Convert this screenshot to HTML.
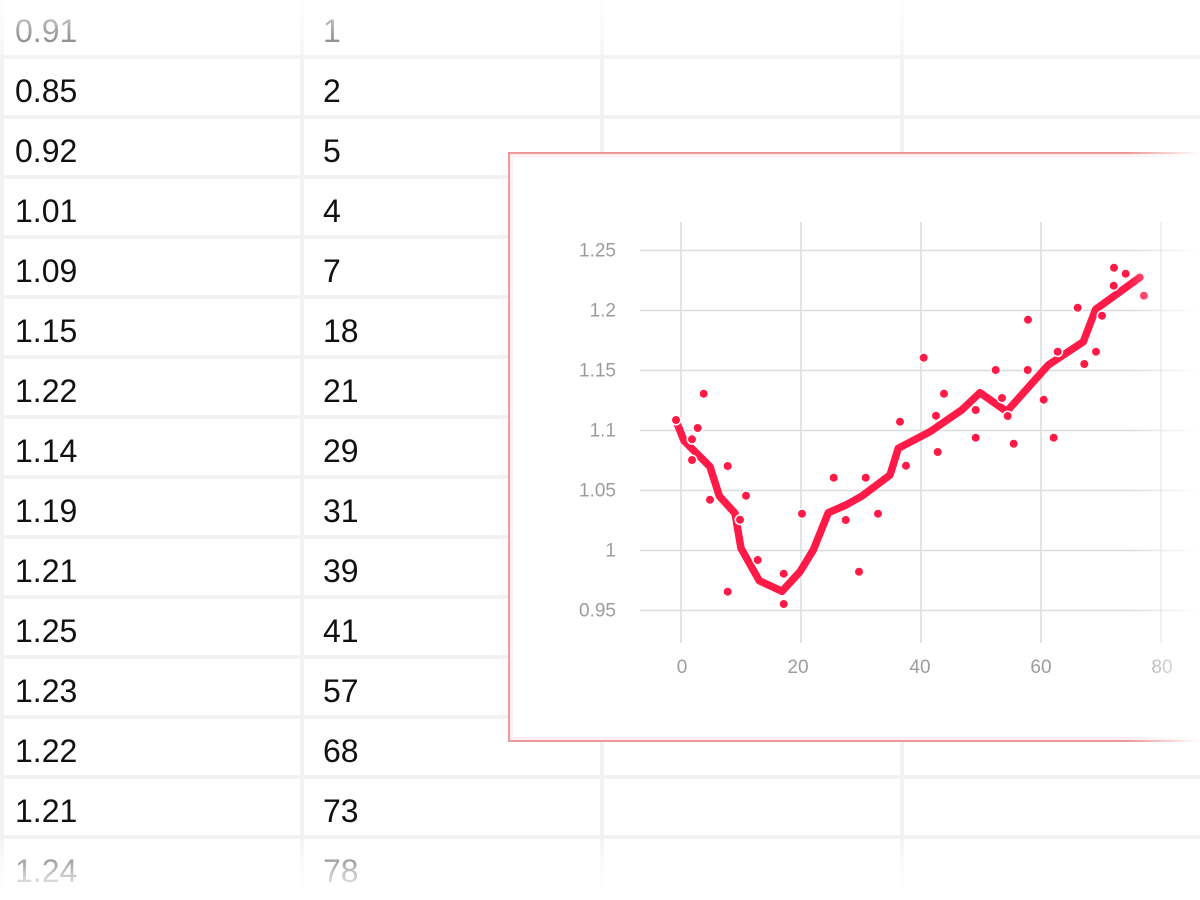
<!DOCTYPE html>
<html>
<head>
<meta charset="utf-8">
<style>
  html,body{margin:0;padding:0;}
  body{width:1200px;height:900px;position:relative;overflow:hidden;background:#f2f2f2;font-family:"Liberation Sans",Arial,sans-serif;}
  .c{position:absolute;background:#fff;width:296px;height:56px;}
  .t{position:absolute;font-size:32px;line-height:32px;color:#111;white-space:nowrap;}
  #chart{position:absolute;left:508px;top:152px;width:720px;height:586px;border:2px solid #ee9a9a;background:#fff;box-shadow:inset 0 0 0 3px #fcf0f2;}
  #svg{position:absolute;left:0;top:0;}
  #fadeR{position:absolute;left:1130px;top:148px;width:70px;height:598px;background:linear-gradient(to right,rgba(255,255,255,0) 0%,rgba(255,255,255,0.45) 45%,#fff 100%);}
  #fadeT{position:absolute;left:0;top:0;width:1200px;height:62px;background:linear-gradient(to bottom,rgba(255,255,255,0.88) 0px,rgba(255,255,255,0.5) 45px,rgba(255,255,255,0) 62px);}
  #fadeB{position:absolute;left:0;top:838px;width:1200px;height:62px;background:linear-gradient(to bottom,rgba(255,255,255,0) 0px,rgba(255,255,255,0.6) 22px,rgba(255,255,255,0.85) 44px,#fff 50px,#fff 62px);}
</style>
</head>
<body>
<div class="c" style="left:4px;top:-1px"></div><div class="c" style="left:304px;top:-1px"></div><div class="c" style="left:604px;top:-1px"></div><div class="c" style="left:904px;top:-1px"></div>
<div class="c" style="left:4px;top:59px"></div><div class="c" style="left:304px;top:59px"></div><div class="c" style="left:604px;top:59px"></div><div class="c" style="left:904px;top:59px"></div>
<div class="c" style="left:4px;top:119px"></div><div class="c" style="left:304px;top:119px"></div><div class="c" style="left:604px;top:119px"></div><div class="c" style="left:904px;top:119px"></div>
<div class="c" style="left:4px;top:179px"></div><div class="c" style="left:304px;top:179px"></div><div class="c" style="left:604px;top:179px"></div><div class="c" style="left:904px;top:179px"></div>
<div class="c" style="left:4px;top:239px"></div><div class="c" style="left:304px;top:239px"></div><div class="c" style="left:604px;top:239px"></div><div class="c" style="left:904px;top:239px"></div>
<div class="c" style="left:4px;top:299px"></div><div class="c" style="left:304px;top:299px"></div><div class="c" style="left:604px;top:299px"></div><div class="c" style="left:904px;top:299px"></div>
<div class="c" style="left:4px;top:359px"></div><div class="c" style="left:304px;top:359px"></div><div class="c" style="left:604px;top:359px"></div><div class="c" style="left:904px;top:359px"></div>
<div class="c" style="left:4px;top:419px"></div><div class="c" style="left:304px;top:419px"></div><div class="c" style="left:604px;top:419px"></div><div class="c" style="left:904px;top:419px"></div>
<div class="c" style="left:4px;top:479px"></div><div class="c" style="left:304px;top:479px"></div><div class="c" style="left:604px;top:479px"></div><div class="c" style="left:904px;top:479px"></div>
<div class="c" style="left:4px;top:539px"></div><div class="c" style="left:304px;top:539px"></div><div class="c" style="left:604px;top:539px"></div><div class="c" style="left:904px;top:539px"></div>
<div class="c" style="left:4px;top:599px"></div><div class="c" style="left:304px;top:599px"></div><div class="c" style="left:604px;top:599px"></div><div class="c" style="left:904px;top:599px"></div>
<div class="c" style="left:4px;top:659px"></div><div class="c" style="left:304px;top:659px"></div><div class="c" style="left:604px;top:659px"></div><div class="c" style="left:904px;top:659px"></div>
<div class="c" style="left:4px;top:719px"></div><div class="c" style="left:304px;top:719px"></div><div class="c" style="left:604px;top:719px"></div><div class="c" style="left:904px;top:719px"></div>
<div class="c" style="left:4px;top:779px"></div><div class="c" style="left:304px;top:779px"></div><div class="c" style="left:604px;top:779px"></div><div class="c" style="left:904px;top:779px"></div>
<div class="c" style="left:4px;top:839px"></div><div class="c" style="left:304px;top:839px"></div><div class="c" style="left:604px;top:839px"></div><div class="c" style="left:904px;top:839px"></div>

<div class="t" style="left:15px;top:15px">0.91</div><div class="t" style="left:323px;top:15px">1</div>
<div class="t" style="left:15px;top:75px">0.85</div><div class="t" style="left:323px;top:75px">2</div>
<div class="t" style="left:15px;top:135px">0.92</div><div class="t" style="left:323px;top:135px">5</div>
<div class="t" style="left:15px;top:195px">1.01</div><div class="t" style="left:323px;top:195px">4</div>
<div class="t" style="left:15px;top:255px">1.09</div><div class="t" style="left:323px;top:255px">7</div>
<div class="t" style="left:15px;top:315px">1.15</div><div class="t" style="left:323px;top:315px">18</div>
<div class="t" style="left:15px;top:375px">1.22</div><div class="t" style="left:323px;top:375px">21</div>
<div class="t" style="left:15px;top:435px">1.14</div><div class="t" style="left:323px;top:435px">29</div>
<div class="t" style="left:15px;top:495px">1.19</div><div class="t" style="left:323px;top:495px">31</div>
<div class="t" style="left:15px;top:555px">1.21</div><div class="t" style="left:323px;top:555px">39</div>
<div class="t" style="left:15px;top:615px">1.25</div><div class="t" style="left:323px;top:615px">41</div>
<div class="t" style="left:15px;top:675px">1.23</div><div class="t" style="left:323px;top:675px">57</div>
<div class="t" style="left:15px;top:735px">1.22</div><div class="t" style="left:323px;top:735px">68</div>
<div class="t" style="left:15px;top:795px">1.21</div><div class="t" style="left:323px;top:795px">73</div>
<div class="t" style="left:15px;top:855px">1.24</div><div class="t" style="left:323px;top:855px">78</div>

<div id="chart"></div>
<svg id="svg" width="1200" height="900" viewBox="0 0 1200 900" xmlns="http://www.w3.org/2000/svg">
  <g stroke="#dcdcdc" stroke-width="1.5" fill="none">
    <line x1="640" y1="250.5" x2="1200" y2="250.5"/>
    <line x1="640" y1="310.5" x2="1200" y2="310.5"/>
    <line x1="640" y1="370.5" x2="1200" y2="370.5"/>
    <line x1="640" y1="430.5" x2="1200" y2="430.5"/>
    <line x1="640" y1="490.5" x2="1200" y2="490.5"/>
    <line x1="640" y1="550.5" x2="1200" y2="550.5"/>
    <line x1="640" y1="610.5" x2="1200" y2="610.5"/>
    <line x1="681" y1="222" x2="681" y2="643"/>
    <line x1="801" y1="222" x2="801" y2="643"/>
    <line x1="921" y1="222" x2="921" y2="643"/>
    <line x1="1041" y1="222" x2="1041" y2="643"/>
    <line x1="1161" y1="222" x2="1161" y2="643"/>
  </g>
  <g font-family="Liberation Sans, Arial, sans-serif" font-size="19" fill="#9c9c9c" text-anchor="end">
    <text x="616" y="256.5">1.25</text>
    <text x="616" y="316.5">1.2</text>
    <text x="616" y="376.5">1.15</text>
    <text x="616" y="436.5">1.1</text>
    <text x="616" y="496.5">1.05</text>
    <text x="616" y="556.5">1</text>
    <text x="616" y="616.5">0.95</text>
  </g>
  <g font-family="Liberation Sans, Arial, sans-serif" font-size="19" fill="#9c9c9c" text-anchor="middle">
    <text x="682" y="673">0</text>
    <text x="798" y="673">20</text>
    <text x="920" y="673">40</text>
    <text x="1041" y="673">60</text>
    <text x="1162" y="673">80</text>
  </g>
  <polyline fill="none" stroke="#ff1a47" stroke-width="7.5" stroke-linejoin="round" stroke-linecap="round"
    points="675.7,420 684,440.7 710,466.7 719.3,496 735,513.3 741,548.3 759.3,580.7 782,591.3 800,571.7 813.3,550 828.3,512.7 846,505 862,496 890,475 898.3,448.3 930,431.7 961.7,410 980,392.7 1006.7,411.5 1048.3,365 1083.3,341.7 1095.7,309.3 1140,277.3"/>
  <g fill="#ff1a47" stroke="#fff" stroke-width="1.5">
    <circle cx="676" cy="420" r="4.75"/>
    <circle cx="703.7" cy="393.7" r="4.75"/>
    <circle cx="697.7" cy="428" r="4.75"/>
    <circle cx="692" cy="439.3" r="4.75"/>
    <circle cx="692" cy="460" r="4.75"/>
    <circle cx="727.7" cy="466" r="4.75"/>
    <circle cx="710" cy="499.7" r="4.75"/>
    <circle cx="746" cy="495.7" r="4.75"/>
    <circle cx="740" cy="519.7" r="4.75"/>
    <circle cx="757.7" cy="560" r="4.75"/>
    <circle cx="727.7" cy="591.7" r="4.75"/>
    <circle cx="783.7" cy="573.7" r="4.75"/>
    <circle cx="783.7" cy="604" r="4.75"/>
    <circle cx="802" cy="513.7" r="4.75"/>
    <circle cx="833.7" cy="477.7" r="4.75"/>
    <circle cx="845.7" cy="520" r="4.75"/>
    <circle cx="859" cy="571.7" r="4.75"/>
    <circle cx="865.7" cy="477.7" r="4.75"/>
    <circle cx="878" cy="513.7" r="4.75"/>
    <circle cx="900" cy="421.7" r="4.75"/>
    <circle cx="906" cy="465.7" r="4.75"/>
    <circle cx="923.7" cy="357.7" r="4.75"/>
    <circle cx="936" cy="415.7" r="4.75"/>
    <circle cx="937.7" cy="452" r="4.75"/>
    <circle cx="944" cy="393.7" r="4.75"/>
    <circle cx="975.7" cy="410" r="4.75"/>
    <circle cx="975.7" cy="437.7" r="4.75"/>
    <circle cx="995.7" cy="370" r="4.75"/>
    <circle cx="1002" cy="398" r="4.75"/>
    <circle cx="1007.7" cy="416" r="4.75"/>
    <circle cx="1013.7" cy="443.7" r="4.75"/>
    <circle cx="1027.7" cy="370" r="4.75"/>
    <circle cx="1028" cy="319.7" r="4.75"/>
    <circle cx="1043.7" cy="399.7" r="4.75"/>
    <circle cx="1053.7" cy="437.7" r="4.75"/>
    <circle cx="1057.7" cy="351.7" r="4.75"/>
    <circle cx="1077.7" cy="307.7" r="4.75"/>
    <circle cx="1084.3" cy="364" r="4.75"/>
    <circle cx="1096" cy="351.7" r="4.75"/>
    <circle cx="1102" cy="315.7" r="4.75"/>
    <circle cx="1113.7" cy="285.7" r="4.75"/>
    <circle cx="1114" cy="267.7" r="4.75"/>
    <circle cx="1125.7" cy="273.7" r="4.75"/>
    <circle cx="1144" cy="295.7" r="4.75"/>
  </g>
</svg>
<div id="fadeR"></div>
<div id="fadeT"></div>
<div id="fadeB"></div>
</body>
</html>
